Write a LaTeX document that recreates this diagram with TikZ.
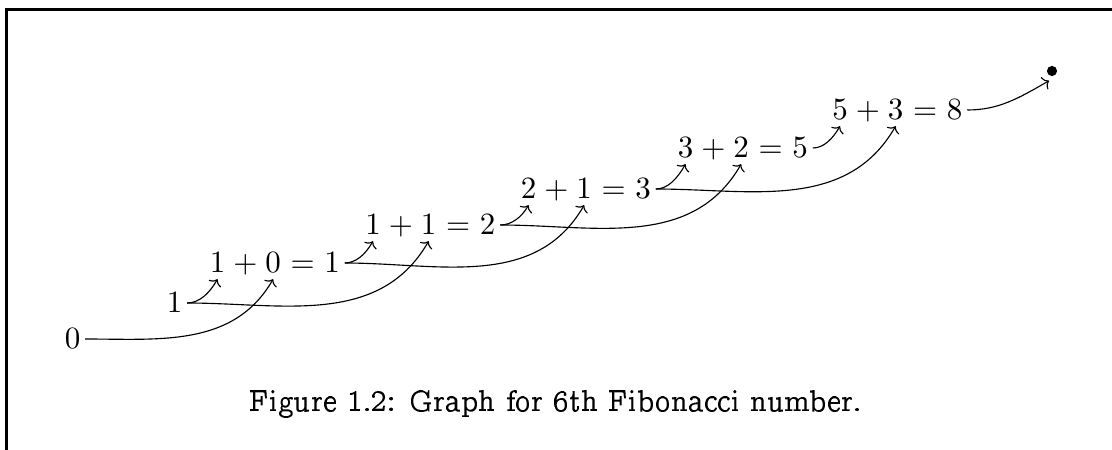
\documentclass[tikz,border=0pt]{standalone}
\usepackage[OT1,TU]{fontenc}
\usetikzlibrary{arrows.meta}
\newcommand\fibrow[6]{%
  \node[m] (#1a) at (#2,#3) {$#4$};
  \node[m,anchor=base west] (#1p) at (#1a.base east) {${}+{}$};
  \node[m,anchor=base west] (#1b) at (#1p.base east) {$#5$};
  \node[m,anchor=base west] (#1q) at (#1b.base east) {${}={}$};
  \node[m,anchor=base west] (#1c) at (#1q.base east) {$#6$};
}
\begin{document}
\begin{tikzpicture}[x=0.3534pt,y=0.3534pt,
  m/.style={inner xsep=0pt,inner ysep=2pt,anchor=base,font=\fontsize{11}{13}\selectfont},
  dotn/.style={circle,fill,inner sep=0pt,minimum size=3.6pt,outer sep=1.8pt},
  conn/.style={-{To[length=2pt,width=5pt]},shorten <=1.5pt},
  frameline/.style={line width=1pt},
  captext/.style={font=\fontencoding{OT1}\fontfamily{ccr}\fontsize{11.1}{13}\selectfont}]
\useasboundingbox (0,0) rectangle (1112,450);
\draw[frameline] (6.2,0) -- (6.2,440.7) -- (1112,440.7);

\node[m] (r1) at (72.5,101) {$0$};
\node[m] (r2) at (174.5,137) {$1$};
\fibrow{r3}{217.5}{177}{1}{0}{1}
\fibrow{r4}{373}{215}{1}{1}{2}
\fibrow{r5}{528.5}{251}{2}{1}{3}
\fibrow{r6}{685.5}{292}{3}{2}{5}
\fibrow{r7}{840}{330}{5}{3}{8}
\node[dotn] (end) at (1052,379) {};

\draw[conn] (r1.east) to[out=0,in=-120] (r3b.south);
\draw[conn] (r2.east) to[out=0,in=-120] (r3a.south);
\draw[conn] (r2.east) to[out=0,in=-120] (r4b.south);
\draw[conn] (r3c.east) to[out=0,in=-120] (r4a.south);
\draw[conn] (r3c.east) to[out=0,in=-120] (r5b.south);
\draw[conn] (r4c.east) to[out=0,in=-120] (r5a.south);
\draw[conn] (r4c.east) to[out=0,in=-120] (r6b.south);
\draw[conn] (r5c.east) to[out=0,in=-120] (r6a.south);
\draw[conn] (r5c.east) to[out=0,in=-120] (r7b.south);
\draw[conn] (r6c.east) to[out=0,in=-120] (r7a.south);
\draw[conn] (r7c.east) to[out=0,in=-150] (end.-107);

\node[captext,anchor=base] (cap) at (556,38) {Figure 1.2: Graph for 6th Fibonacci number.};
\end{tikzpicture}
\end{document}
